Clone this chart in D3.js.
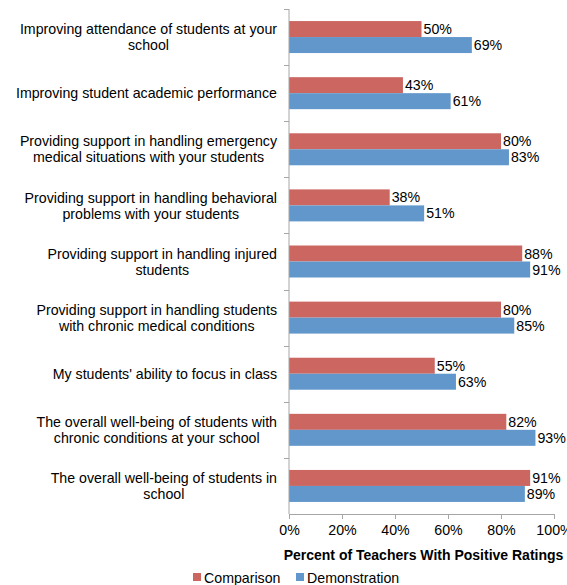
<!DOCTYPE html>
<html>
<head>
<meta charset="utf-8">
<script src="https://cdn.jsdelivr.net/npm/d3@7"></script>
<style>
	body { margin: 0; background: #fff; }
	svg text { font-family: "Liberation Sans", Arial, sans-serif; fill: #000; }
</style>
</head>
<body>
<svg id="viz" width="567" height="585"></svg>
<script>

// categories, top to bottom (\n marks the line breaks of the original)
const categories = [
	"Improving attendance of students at your\nschool",
	"Improving student academic performance",
	"Providing support in handling emergency\nmedical situations with your students",
	"Providing support in handling behavioral\nproblems with your students",
	"Providing support in handling injured\nstudents",
	"Providing support in handling students\nwith chronic medical conditions",
	"My students' ability to focus in class",
	"The overall well-being of students with\nchronic conditions at your school",
	"The overall well-being of students in\nschool"
];
const comparison    = [50, 43, 80, 38, 88, 80, 55, 82, 91];
const demonstration = [69, 61, 83, 51, 91, 85, 63, 93, 89];
const seriesNames = ["Comparison", "Demonstration"];
const xTicks = [0, 20, 40, 60, 80, 100];

let drawEverything = function() {

	const margin = {
		top:	9,
		left:	289,
		right:	13,
		bottom:	71 // ticks, title, legend
	};
	const fontSize = "14.2px";

	let svg = d3.select("body").select("svg#viz");
	let bounds = svg.node().getBoundingClientRect();
	let plotWidth = bounds.width - margin.left - margin.right;
	let plotHeight = bounds.height - margin.top - margin.bottom;

	let colorScale = d3.scaleOrdinal()
		.domain(seriesNames)
		.range(["#cc6661", "#6197ca"]);

	// scales
	let xScale = d3.scaleLinear()
		.domain([0, 100])
		.range([0, plotWidth]);

	let yScale = d3.scaleBand()
		.domain(d3.range(categories.length))
		.range([0, plotHeight])
		.paddingInner(0.43)
		.paddingOuter(0.215);

	let subScale = d3.scaleBand()
		.domain(seriesNames)
		.range([0, yScale.bandwidth()]);

	let plot = svg.append("g")
		.attr("id", "plot")
		.attr("transform", `translate(${margin.left}, ${margin.top})`);

	// bars
	let rows = plot.selectAll("g.row")
		.data(categories.map((c, i) => ({
			i: i,
			values: [
				{key: "Comparison", value: comparison[i]},
				{key: "Demonstration", value: demonstration[i]}
			]
		})))
		.enter().append("g")
		.attr("class", "row")
		.attr("transform", d => `translate(0, ${yScale(d.i)})`);

	rows.selectAll("rect")
		.data(d => d.values)
		.enter().append("rect")
		.attr("x", 0)
		.attr("y", d => subScale(d.key))
		.attr("width", d => xScale(d.value))
		.attr("height", subScale.bandwidth())
		.attr("fill", d => colorScale(d.key));

	rows.selectAll("text.value")
		.data(d => d.values)
		.enter().append("text")
		.attr("class", "value")
		.attr("x", d => xScale(d.value) + 2)
		.attr("y", d => subScale(d.key) + subScale.bandwidth() / 2)
		.attr("dy", "0.36em")
		.style("font-size", fontSize)
		.text(d => d.value + "%");

	// y axis: plain line with separator ticks between categories
	const axisColor = "#a6a6a6";
	let yGroup = plot.append("g").attr("id", "y-axis");
	yGroup.append("line")
		.attr("x1", 0).attr("x2", 0)
		.attr("y1", 0).attr("y2", plotHeight)
		.attr("stroke", axisColor);
	let step = yScale.step();
	let sepY = d3.range(categories.length).map(i => yScale(i) - (step - yScale.bandwidth()) / 2);
	yGroup.selectAll("line.sep")
		.data(sepY)
		.enter().append("line")
		.attr("class", "sep")
		.attr("x1", -5).attr("x2", 0)
		.attr("y1", d => Math.round(d) + 0.5)
		.attr("y2", d => Math.round(d) + 0.5)
		.attr("stroke", axisColor);

	// category labels: lines centred, blocks right aligned
	let labels = yGroup.selectAll("g.label")
		.data(categories)
		.enter().append("g")
		.attr("class", "label");

	labels.each(function(d, i) {
		let g = d3.select(this);
		let lines = d.split("\n");
		let cy = yScale(i) + yScale.bandwidth() / 2;
		let lineH = 16;
		let texts = g.selectAll("text")
			.data(lines)
			.enter().append("text")
			.style("font-size", fontSize)
			.attr("text-anchor", "middle")
			.attr("y", (l, j) => cy + (j - (lines.length - 1) / 2) * lineH)
			.attr("dy", "0.36em")
			.text(l => l);
		let widest = d3.max(texts.nodes(), n => n.getComputedTextLength());
		texts.attr("x", -12 - widest / 2);
	});

	// x axis
	let xAxis = d3.axisBottom(xScale)
		.tickValues(xTicks)
		.tickSize(5)
		.tickFormat(d => d + "%");
	let xGroup = plot.append("g")
		.attr("id", "x-axis")
		.attr("transform", `translate(0, ${plotHeight})`)
		.call(xAxis);
	xGroup.select(".domain").attr("stroke", axisColor);
	xGroup.selectAll(".tick line").attr("stroke", axisColor);
	xGroup.selectAll(".tick text")
		.attr("y", 11)
		.style("font-size", fontSize)
		.style("font-family", "'Liberation Sans', Arial, sans-serif")
		.attr("fill", "#000");

	// title is centred a little right of the plot, as in the original
	let title = xGroup.append("text")
		.attr("class", "axis-title")
		.attr("x", plotWidth / 2 + 2)
		.attr("y", 46)
		.attr("text-anchor", "middle")
		.style("font-size", "14px")
		.style("font-weight", "bold")
		.attr("fill", "#000")
		.text("Percent of Teachers With Positive Ratings");
	// keep it inside the picture
	let tw = title.node().getComputedTextLength();
	let maxRight = bounds.width - margin.left - 1;
	if (plotWidth / 2 + 2 + tw / 2 > maxRight) {
		title.attr("x", maxRight - tw / 2);
	}

	// legend
	let legend = svg.append("g")
		.attr("id", "legend")
		.attr("transform", `translate(193, 578)`);
	let legendX = [0, 103];
	let items = legend.selectAll("g.item")
		.data(seriesNames)
		.enter().append("g")
		.attr("class", "item")
		.attr("transform", (d, i) => `translate(${legendX[i]}, 0)`);
	items.append("rect")
		.attr("x", 0).attr("y", -5)
		.attr("width", 8).attr("height", 8)
		.attr("fill", d => colorScale(d));
	items.append("text")
		.attr("x", 11)
		.attr("y", 0)
		.attr("dy", "0.36em")
		.style("font-size", fontSize)
		.text(d => d);
};

drawEverything();
</script>
</body>
</html>
